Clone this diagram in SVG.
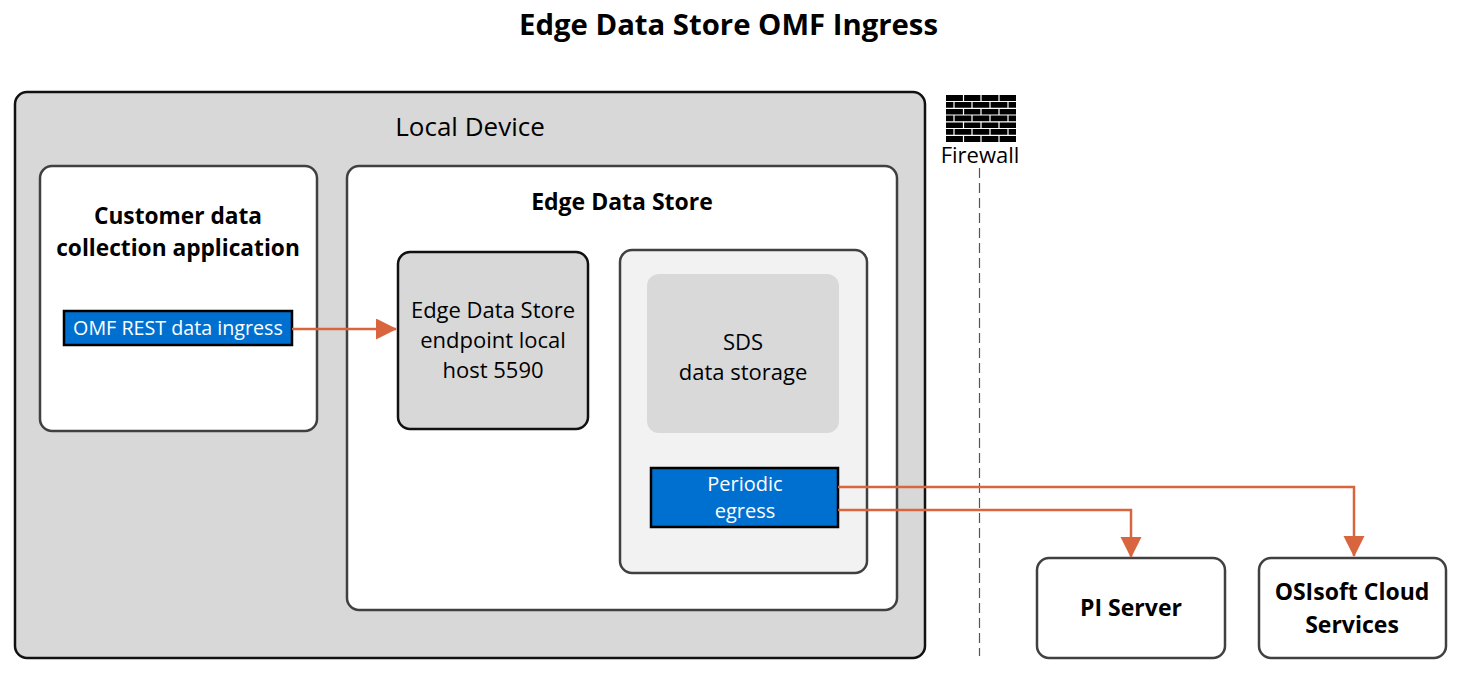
<svg xmlns="http://www.w3.org/2000/svg" width="1457" height="679" viewBox="0 0 1457 679">
<style>
text{font-family:"Open Sans","Noto Sans","Liberation Sans",sans-serif;text-anchor:middle;fill:#000}
.b{font-weight:700}
.w{fill:#fff}
.box{stroke:#404040;stroke-width:2.5}
.blue{fill:#0070d0;stroke:#000;stroke-width:2.5}
.c{fill:none;stroke:#d9653f;stroke-width:2.5}
.gap{stroke:#fff;stroke-width:1.2}
</style>
<defs>
<marker id="arrow" markerUnits="userSpaceOnUse" markerWidth="22" markerHeight="22" refX="20" refY="10.5" orient="auto"><path d="M0 0L21 10.5L0 21Z" fill="#d9653f"/></marker>
</defs>
<rect width="1457" height="679" fill="#fff"/>
<text id="title" class="b" x="728.500" y="35" font-size="29.300">Edge Data Store OMF Ingress</text>
<g id="local-device">
<rect x="15" y="92" width="910" height="566" rx="12" fill="#d8d8d8" stroke="#111" stroke-width="2.500"/>
<text x="470" y="136" font-size="26">Local Device</text>
</g>
<g id="customer-app">
<rect class="box" x="40" y="166" width="277" height="265" rx="12" fill="#fff"/>
<text class="b" x="178" y="224" font-size="22.700">Customer data</text>
<text class="b" x="178" y="256" font-size="22.700">collection application</text>
</g>
<g id="omf-rest">
<rect class="blue" x="64" y="311" width="228" height="34"/>
<text class="w" x="178" y="335" font-size="19.700">OMF REST data ingress</text>
</g>
<g id="eds">
<rect class="box" x="347" y="166" width="550" height="444" rx="12" fill="#fff"/>
<text class="b" x="622" y="210" font-size="23">Edge Data Store</text>
</g>
<g id="endpoint">
<rect x="398" y="252" width="190" height="177" rx="12" fill="#d8d8d8" stroke="#111" stroke-width="2.500"/>
<text x="493" y="318" font-size="22">Edge Data Store</text>
<text x="493" y="348" font-size="22">endpoint local</text>
<text x="493" y="378" font-size="22">host 5590</text>
</g>
<g id="storage-panel">
<rect class="box" x="620" y="250" width="247" height="323" rx="12" fill="#f2f2f2"/>
</g>
<g id="sds">
<rect x="647" y="274" width="192" height="159" rx="12" fill="#d9d9d9"/>
<text x="743" y="350" font-size="22">SDS</text>
<text x="743" y="380" font-size="22">data storage</text>
</g>
<g id="egress">
<rect class="blue" x="651" y="468" width="187" height="59"/>
<text class="w" x="745" y="491" font-size="20">Periodic</text>
<text class="w" x="745" y="518" font-size="20">egress</text>
</g>
<g id="firewall">
<rect x="946" y="95" width="70" height="47" fill="#000"/>
<g class="gap">
<path d="M946 101.500H1016M946 108.300H1016M946 115H1016M946 121.800H1016M946 128.500H1016M946 135.300H1016"/>
<path d="M963.500 95V101.500M981 95V101.500M999 95V101.500M954 101.500V108.300M972 101.500V108.300M990 101.500V108.300M1008 101.500V108.300M963.500 108.300V115M981 108.300V115M999 108.300V115M954 115V121.800M972 115V121.800M990 115V121.800M1008 115V121.800M963.500 121.800V128.500M981 121.800V128.500M999 121.800V128.500M954 128.500V135.300M972 128.500V135.300M990 128.500V135.300M1008 128.500V135.300M963.500 135.300V142M981 135.300V142M999 135.300V142"/>
</g>
<text x="980" y="163" font-size="22">Firewall</text>
<path d="M979.500 168V656" fill="none" stroke="#555" stroke-width="1.200" stroke-dasharray="10 5"/>
</g>
<g id="pi-server">
<rect class="box" x="1037" y="558" width="188" height="100" rx="12" fill="#fff"/>
<text class="b" x="1131" y="616" font-size="23">PI Server</text>
</g>
<g id="ocs">
<rect class="box" x="1259" y="558" width="187" height="100" rx="12" fill="#fff"/>
<text class="b" x="1352" y="600" font-size="23">OSIsoft Cloud</text>
<text class="b" x="1352" y="633" font-size="23">Services</text>
</g>
<g id="connectors">
<path class="c" d="M292 329H396" marker-end="url(#arrow)"/>
<path class="c" d="M838 487H1354V556" marker-end="url(#arrow)"/>
<path class="c" d="M838 510H1131V557" marker-end="url(#arrow)"/>
</g>
</svg>
